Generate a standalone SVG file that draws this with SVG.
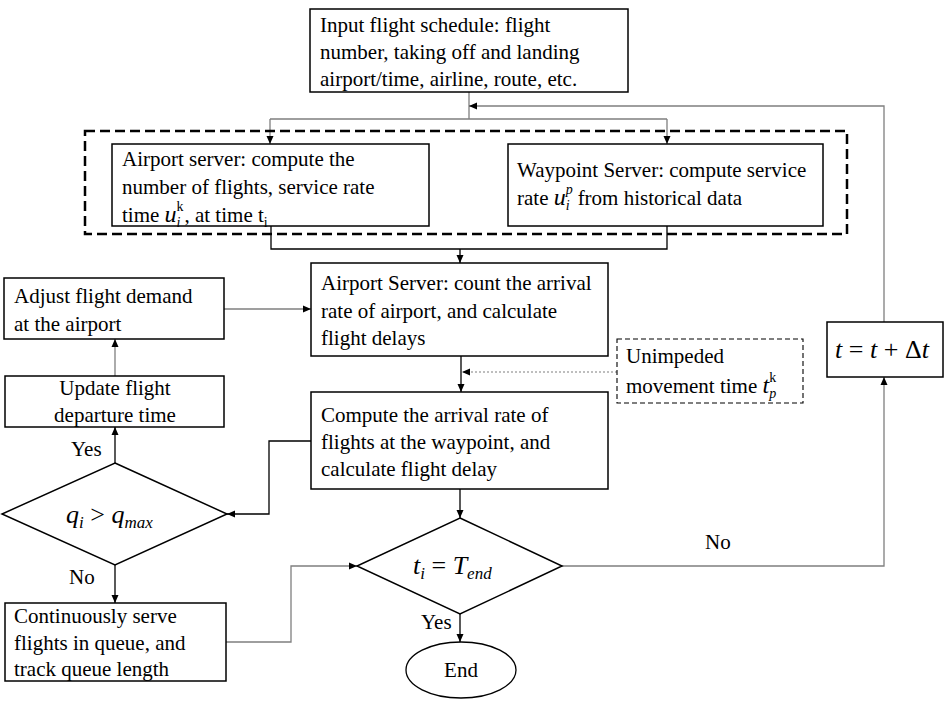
<svg xmlns="http://www.w3.org/2000/svg" width="949" height="703" viewBox="0 0 949 703">
<style>
.box{fill:#fff;stroke:#000;stroke-width:1.5}
.t{font-family:"Liberation Serif","Times New Roman",serif;font-size:21px;fill:#000}
.m{font-family:"Liberation Serif","Times New Roman",serif;font-size:26px;font-style:italic;fill:#000}
.s{font-size:14px}
.ms{font-size:17px}
.g{fill:none;stroke:#7f7f7f;stroke-width:1.3}
.k{fill:none;stroke:#000;stroke-width:1.3}
</style>
<defs>
<marker id="ah" markerWidth="8" markerHeight="8" refX="8" refY="4" orient="auto" markerUnits="userSpaceOnUse">
<path d="M0,0.5 L8,4 L0,7.5 Z" fill="#000"/>
</marker>
</defs>
<rect width="949" height="703" fill="#fff"/>

<g id="connectors">
<path class="g" d="M469,92 V119 M270,119 H667"/>
<path class="g" d="M270,119 V144" marker-end="url(#ah)"/>
<path class="g" d="M667,119 V144" marker-end="url(#ah)"/>
<path class="k" d="M271,226 V249 H667 V226"/>
<path class="k" d="M460,249 V263" marker-end="url(#ah)"/>
<path class="k" d="M461,356 V392" marker-end="url(#ah)"/>
<path d="M617,372 H462" fill="none" stroke="#7f7f7f" stroke-width="1.2" stroke-dasharray="2,2" marker-end="url(#ah)"/>
<path class="g" d="M224,309 H311" marker-end="url(#ah)"/>
<path class="g" d="M115,376 V339" marker-end="url(#ah)"/>
<path class="k" d="M115,463 V427" marker-end="url(#ah)"/>
<path class="k" d="M311,441 H269 V514 H227" marker-end="url(#ah)"/>
<path class="k" d="M115,565 V603" marker-end="url(#ah)"/>
<path class="g" d="M226,642 H291 V566 H357" marker-end="url(#ah)"/>
<path class="k" d="M460,489 V518" marker-end="url(#ah)"/>
<path class="k" d="M460,614 V642" marker-end="url(#ah)"/>
<path class="g" d="M562,566 H884 V377" marker-end="url(#ah)"/>
<path class="g" d="M884,322 V106 H469" marker-end="url(#ah)"/>
<text class="t" x="705" y="549">No</text>
<text class="t" x="421" y="629">Yes</text>
<text class="t" x="71" y="456">Yes</text>
<text class="t" x="69" y="584">No</text>
</g>

<g id="group-servers">
<rect x="85" y="131" width="762" height="103" fill="none" stroke="#000" stroke-width="2.5" stroke-dasharray="10,5"/>
</g>

<g id="input">
<rect class="box" x="310" y="9" width="318" height="83"/>
<text class="t" x="320" y="32">Input flight schedule: flight</text>
<text class="t" x="320" y="59">number, taking off and landing</text>
<text class="t" x="320" y="86">airport/time,  airline, route, etc.</text>
</g>

<g id="airport-server">
<rect class="box" x="112" y="144" width="317" height="82"/>
<text class="t" x="122" y="166">Airport server: compute the</text>
<text class="t" x="122" y="194">number of flights, service rate</text>
<text class="t" x="122" y="222">time <tspan font-style="italic" font-size="24">u</tspan><tspan class="s" dy="-11">k</tspan><tspan class="s" font-style="italic" dx="-7" dy="16">i</tspan><tspan dx="4" dy="-5">, at time t</tspan><tspan class="s" dy="5">i</tspan></text>
</g>

<g id="waypoint-server">
<rect class="box" x="508" y="144" width="315" height="82"/>
<text class="t" x="517" y="177">Waypoint Server: compute service</text>
<text class="t" x="517" y="205">rate <tspan font-style="italic" font-size="24">u</tspan><tspan class="s" font-style="italic" dy="-11">p</tspan><tspan class="s" font-style="italic" dx="-7" dy="16">i</tspan><tspan dx="8" dy="-5">from historical data</tspan></text>
</g>

<g id="airport-count">
<rect class="box" x="311" y="263" width="297" height="93"/>
<text class="t" x="321" y="290">Airport Server: count the arrival</text>
<text class="t" x="321" y="318">rate of airport, and calculate</text>
<text class="t" x="321" y="345">flight delays</text>
</g>

<g id="unimpeded">
<rect x="617" y="339" width="186" height="64" fill="#fff" stroke="#000" stroke-width="1.1" stroke-dasharray="5,3"/>
<text class="t" x="626" y="363">Unimpeded</text>
<text class="t" x="626" y="393">movement time <tspan font-style="italic" font-size="24">t</tspan><tspan class="s" dy="-11">k</tspan><tspan class="s" font-style="italic" dx="-7" dy="16">p</tspan></text>
</g>

<g id="waypoint-compute">
<rect class="box" x="311" y="392" width="297" height="97"/>
<text class="t" x="321" y="422">Compute the arrival rate of</text>
<text class="t" x="321" y="449">flights at the waypoint, and</text>
<text class="t" x="321" y="476">calculate flight delay</text>
</g>

<g id="adjust">
<rect class="box" x="4" y="278" width="220" height="61"/>
<text class="t" x="14" y="303">Adjust flight demand</text>
<text class="t" x="14" y="331">at the airport</text>
</g>

<g id="update">
<rect class="box" x="5" y="376" width="219" height="51"/>
<text class="t" x="115" y="395" text-anchor="middle">Update flight</text>
<text class="t" x="115" y="422" text-anchor="middle">departure time</text>
</g>

<g id="queue-check">
<polygon class="box" points="115,463 227,514 115,565 2,514"/>
<text class="m" x="66" y="523">q<tspan class="ms" dy="5">i</tspan><tspan font-style="normal" dy="-5"> &gt; </tspan>q<tspan class="ms" dy="5">max</tspan></text>
</g>

<g id="serve">
<rect class="box" x="5" y="603" width="221" height="78"/>
<text class="t" x="14" y="623">Continuously serve</text>
<text class="t" x="14" y="650">flights in queue, and</text>
<text class="t" x="14" y="676">track queue length</text>
</g>

<g id="end-check">
<polygon class="box" points="460,518 562,566 460,614 357,566"/>
<text class="m" x="413" y="574">t<tspan class="ms" dy="5">i</tspan><tspan font-style="normal" dy="-5"> = </tspan>T<tspan class="ms" dy="5">end</tspan></text>
</g>

<g id="time-step">
<rect class="box" x="827" y="322" width="116" height="55"/>
<text class="m" x="882" y="358" text-anchor="middle">t<tspan font-style="normal"> = </tspan>t<tspan font-style="normal"> +  Δ</tspan>t</text>
</g>

<g id="end">
<ellipse cx="461" cy="670" rx="55" ry="28" fill="#fff" stroke="#000" stroke-width="1.3"/>
<text class="t" x="461" y="677" text-anchor="middle">End</text>
</g>
</svg>
